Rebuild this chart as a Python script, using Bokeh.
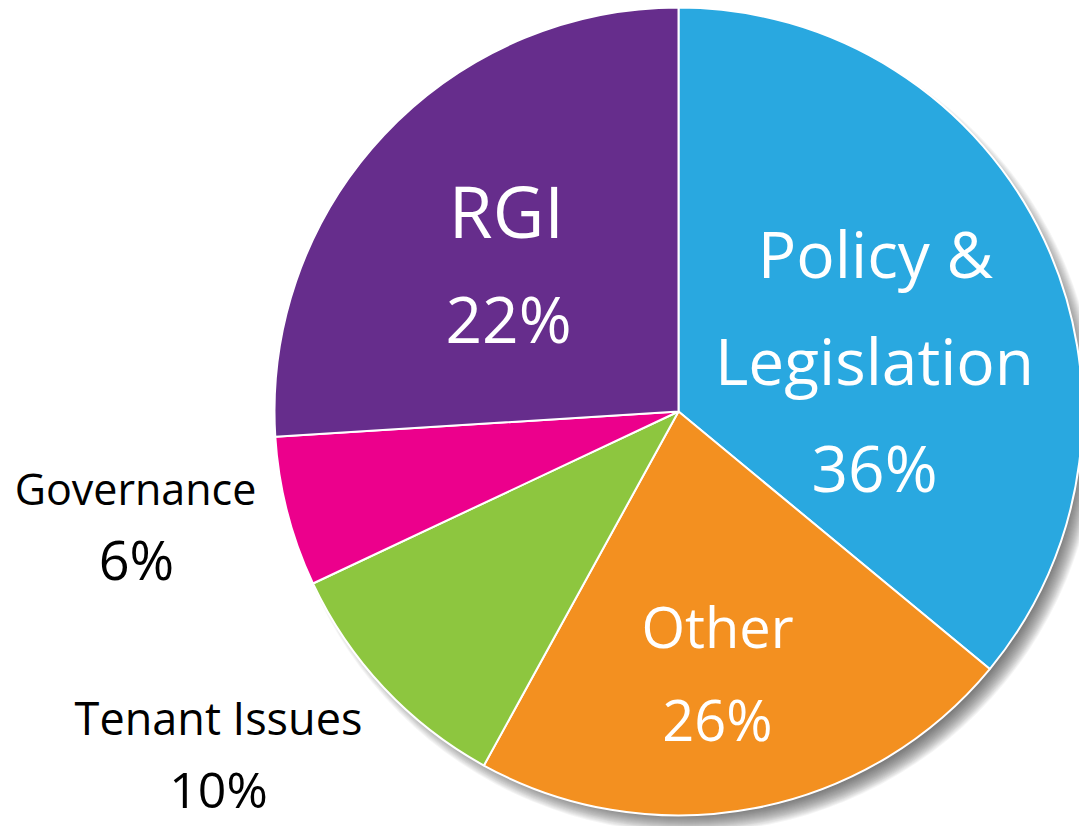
import math
from bokeh.plotting import figure
from bokeh.models import Range1d, ColumnDataSource
from bokeh.core.properties import value
from bokeh.embed import file_html
from bokeh.resources import INLINE

# ---- data ----
categories = ["Policy & Legislation", "Other", "Tenant Issues", "Governance", "RGI"]
drawn_share = [36, 22, 10, 6, 26]          # slice sizes as drawn in the picture (%)
label_pct = ["36%", "26%", "10%", "6%", "22%"]  # percentages as printed on the chart
colors = ["#29A8E0", "#F39020", "#8DC63F", "#EC008C", "#662D8C"]

W, H = 1079, 826
p = figure(width=W, height=H, output_backend="svg", toolbar_location=None,
           x_range=Range1d(0, W), y_range=Range1d(0, H),
           min_border=0, background_fill_color="white", border_fill_color="white")
p.axis.visible = False
p.grid.visible = False
p.outline_line_color = None

def Y(y):
    return H - y

cx, cy, r = 678, Y(411), 404

# soft drop shadow (bottom-right)
for i in range(20):
    rr = r - 14 + i * 1.0
    p.circle(x=[cx + 10], y=[cy - 12], radius=rr, fill_color="#404040",
             fill_alpha=0.05, line_color=None)

# wedges
total = sum(drawn_share)
starts, ends = [], []
cum = 0.0
for v in drawn_share:
    a0 = math.pi / 2 - 2 * math.pi * (cum + v) / total
    a1 = math.pi / 2 - 2 * math.pi * cum / total
    starts.append(a0)
    ends.append(a1)
    cum += v
src = ColumnDataSource(dict(start=starts, end=ends, color=colors))
p.wedge(x=cx, y=cy, radius=r, start_angle="start", end_angle="end",
        fill_color="color", line_color="white", line_width=2, source=src)

# labels
FONT = value("Open Sans")
def lab(x, y, t, size, color):
    p.text(x=[x], y=[Y(y)], text=[t], text_font=FONT, text_font_size=f"{size}px",
           text_color=color, text_align="center", text_baseline="middle")

lab(875, 253, "Policy &", 64, "white")
lab(874, 360, "Legislation", 64, "white")
lab(874, 467, label_pct[0], 64, "white")
lab(717, 625, "Other", 56, "white")
lab(717, 718, label_pct[1], 56, "white")
lab(218, 717, "Tenant Issues", 45, "black")
lab(218, 788, label_pct[2], 50, "black")
lab(135, 488, "Governance", 43, "black")
lab(136, 558, label_pct[3], 54, "black")
lab(506, 210, "RGI", 71, "white")
lab(508, 318, label_pct[4], 64, "white")

open("out.html", "w").write(file_html(p, INLINE))
